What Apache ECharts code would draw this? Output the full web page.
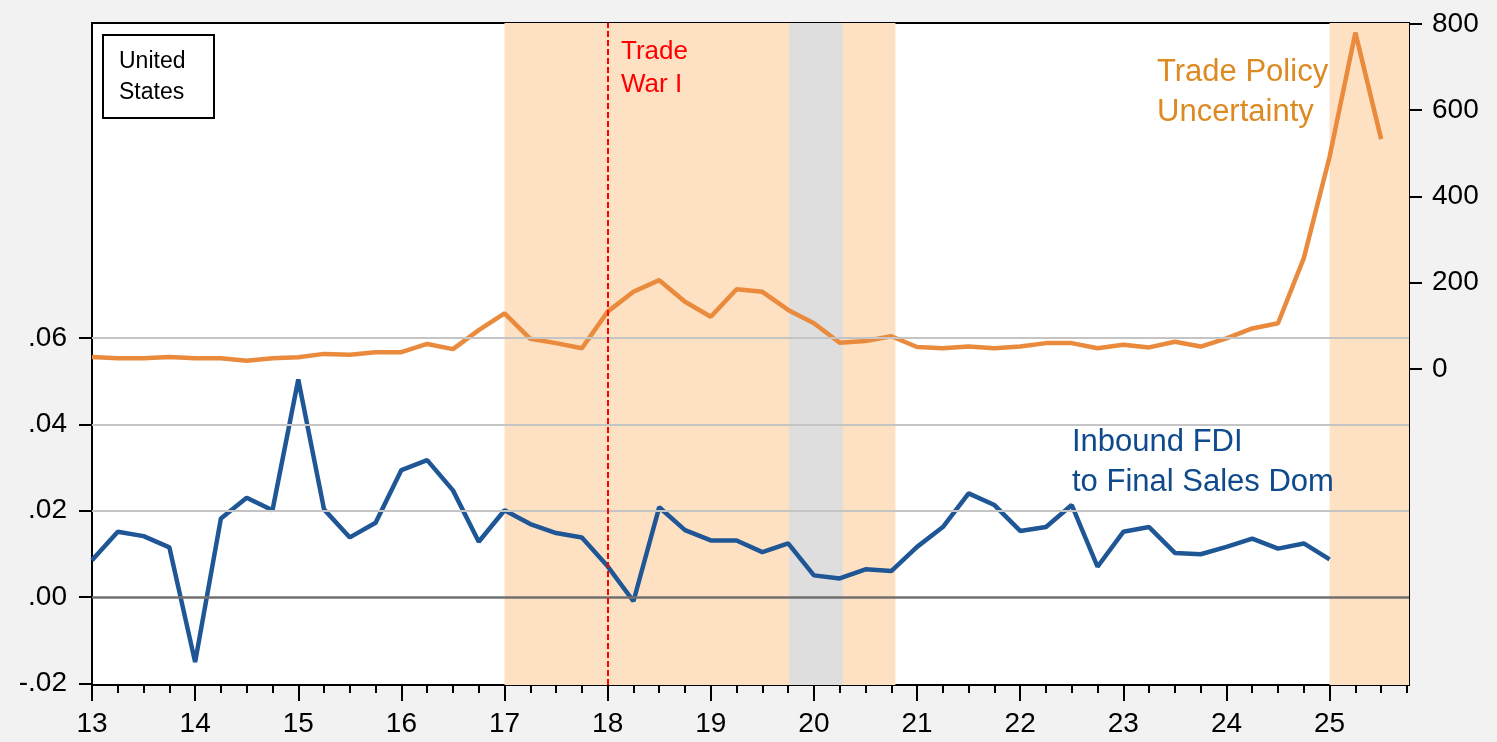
<!DOCTYPE html>
<html lang="en">
<head>
<meta charset="UTF-8">
<title>Inbound FDI and Trade Policy Uncertainty</title>
<style>
  body {margin:0; background:#f2f2f2}
  #chart {width:1497px; height:742px}
</style>
<script src="https://cdn.jsdelivr.net/npm/echarts@6/dist/echarts.min.js"></script>
</head>
<body>
<div id="chart"></div>
<script>
// quarterly periods, year 20xx written as xx, Q1 = xx.00
let periods = []
for (let y = 13; y <= 25; y++) {
  for (let q = 0; q < 4; q++) periods.push(y + q / 4)
}

// inbound FDI / final sales to domestic purchasers (left axis), 13Q1..25Q1
let fdi = [
  0.0085, 0.0151, 0.0141, 0.0115,
  -0.0151, 0.0182, 0.0230, 0.0201,
  0.0504, 0.0203, 0.0138, 0.0172,
  0.0294, 0.0317, 0.0247, 0.0128,
  0.0201, 0.0169, 0.0148, 0.0138,
  0.0071, -0.0010, 0.0208, 0.0155,
  0.0131, 0.0131, 0.0104, 0.0124,
  0.0050, 0.0043, 0.0064, 0.0060,
  0.0116, 0.0162, 0.0240, 0.0213,
  0.0153, 0.0162, 0.0213, 0.0070,
  0.0151, 0.0162, 0.0102, 0.0099,
  0.0116, 0.0135, 0.0112, 0.0124,
  0.0087
]

// trade policy uncertainty index (right axis), 13Q1..25Q3
let tpu = [
  28, 25, 25, 28,
  25, 25, 19, 25,
  27, 35, 33, 39,
  39, 58, 46, 90,
  129, 70, 60, 48,
  133, 179, 206, 156,
  121, 185, 179, 137,
  106, 61, 65, 76,
  51, 48, 52, 48,
  52, 60, 60, 48,
  56, 50, 63, 52,
  71, 94, 106, 257,
  492, 780, 533
]

let yearTicks = [13, 14, 15, 16, 17, 18, 19, 20, 21, 22, 23, 24, 25]
let quarterTicks = periods.concat([25.25, 25.5, 25.75])
let leftTicks = [-0.02, 0, 0.02, 0.04, 0.06]
let rightTicks = [0, 200, 400, 600, 800]
let gridLevels = [0.02, 0.04, 0.06]

let tradeWarBand = [17, 20.79]
let recessionBand = [19.76, 20.28]
let lateBand = [25, 25.77]
let tradeWarStart = 18

let font = 'Liberation Sans, Arial, sans-serif'
let chart = echarts.init(document.getElementById('chart'))

let option = {
  animation: false,
  backgroundColor: '#f2f2f2',
  grid: {
    left: 92, right: 88, top: 23, bottom: 57,
    show: true, backgroundColor: '#ffffff', borderColor: '#000', borderWidth: 2
  },
  xAxis: [
    {
      type: 'value', min: 13, max: 25.77,
      axisLine: {show: true, onZero: false, lineStyle: {color: '#000', width: 2}},
      axisTick: {show: true, customValues: quarterTicks, length: 8, lineStyle: {color: '#000', width: 2}},
      axisLabel: {show: false},
      splitLine: {show: false}
    },
    {
      type: 'value', min: 13, max: 25.77, position: 'bottom',
      axisLine: {show: false, onZero: false},
      axisTick: {show: true, customValues: yearTicks, length: 16, lineStyle: {color: '#000', width: 2}},
      axisLabel: {
        customValues: yearTicks, margin: 25, color: '#000',
        fontFamily: font, fontSize: 28,
        formatter: v => String(v)
      },
      splitLine: {show: false}
    }
  ],
  yAxis: [
    {
      type: 'value', min: -0.0204, max: 0.133,
      axisLine: {show: true, onZero: false, lineStyle: {color: '#000', width: 2}},
      axisTick: {show: true, customValues: leftTicks, length: 13, lineStyle: {color: '#000', width: 2}},
      axisLabel: {
        customValues: leftTicks, margin: 25, color: '#000',
        fontFamily: font, fontSize: 28,
        formatter: v => v.toFixed(2).replace('0.', '.')
      },
      splitLine: {show: false}
    },
    {
      type: 'value', min: -732.8, max: 802.3, position: 'right',
      axisLine: {show: true, onZero: false, lineStyle: {color: '#000', width: 2}},
      axisTick: {show: true, customValues: rightTicks, length: 13, lineStyle: {color: '#000', width: 2}},
      axisLabel: {
        customValues: rightTicks, margin: 23, color: '#000',
        fontFamily: font, fontSize: 28
      },
      splitLine: {show: false}
    }
  ],
  series: [
    {
      // shading
      type: 'line', data: [], z: 1, silent: true,
      markArea: {
        silent: true,
        data: [
          [{xAxis: tradeWarBand[0], itemStyle: {color: '#fee0c2'}}, {xAxis: tradeWarBand[1]}],
          [{xAxis: lateBand[0], itemStyle: {color: '#fee0c2'}}, {xAxis: lateBand[1]}],
          [{xAxis: recessionBand[0], itemStyle: {color: '#dedede'}}, {xAxis: recessionBand[1]}]
        ]
      }
    },
    {
      // grid lines and trade war marker
      type: 'line', data: [], z: 2, silent: true,
      markLine: {
        silent: true, symbol: 'none', label: {show: false},
        data: gridLevels.map(v => ({yAxis: v, lineStyle: {color: '#c4c4c4', width: 2, type: 'solid'}}))
          .concat([
            {yAxis: 0, lineStyle: {color: '#707070', width: 2.5, type: 'solid'}},
            {xAxis: tradeWarStart, lineStyle: {color: '#ff0000', width: 2, type: [6, 3]}}
          ])
      }
    },
    {
      name: 'Trade Policy Uncertainty',
      type: 'line', yAxisIndex: 1, z: 3,
      data: tpu.map((v, i) => [periods[i], v]),
      showSymbol: false,
      lineStyle: {color: '#e98a3d', width: 4.5}
    },
    {
      name: 'Inbound FDI to Final Sales Dom',
      type: 'line', yAxisIndex: 0, z: 4,
      data: fdi.map((v, i) => [periods[i], v]),
      showSymbol: false,
      lineStyle: {color: '#1f5696', width: 4.5}
    }
  ],
  graphic: [
    {
      type: 'rect', z: 10,
      shape: {x: 103, y: 35, width: 111, height: 83},
      style: {fill: '#fff', stroke: '#000', lineWidth: 2}
    },
    {
      type: 'text', z: 11, left: 119, top: 46,
      style: {text: 'United\nStates', font: '23px ' + font, fill: '#000', lineHeight: 31}
    },
    {
      type: 'text', z: 11, left: 621, top: 35,
      style: {text: 'Trade\nWar I', font: '26px ' + font, fill: '#ff0000', lineHeight: 33}
    },
    {
      type: 'text', z: 11, left: 1157, top: 52,
      style: {text: 'Trade Policy\nUncertainty', font: '31px ' + font, fill: '#de8a22', lineHeight: 40}
    },
    {
      type: 'text', z: 11, left: 1072, top: 422,
      style: {text: 'Inbound FDI\nto Final Sales Dom', font: '31px ' + font, fill: '#0e4a8c', lineHeight: 40}
    }
  ]
}

chart.setOption(option)
</script>
</body>
</html>
